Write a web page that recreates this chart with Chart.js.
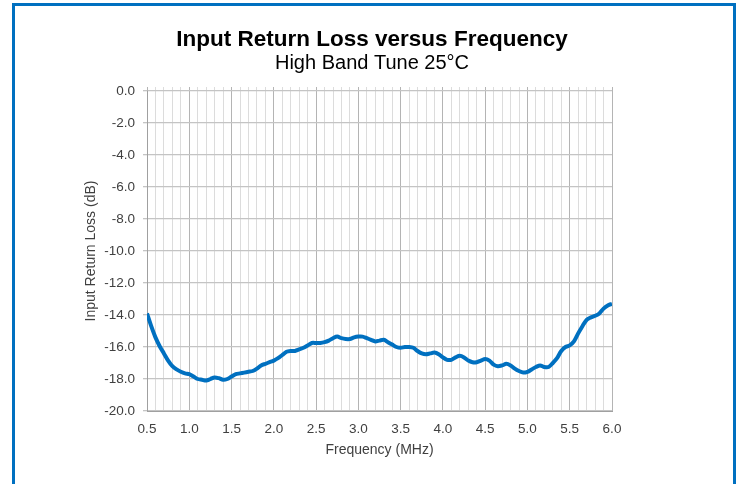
<!DOCTYPE html>
<html>
<head>
<meta charset="utf-8">
<script src="https://cdn.jsdelivr.net/npm/chart.js@4.4.1/dist/chart.umd.min.js"></script>
<style>
  html, body { margin: 0; padding: 0; background: #fff; }
  #wrap { position: relative; width: 740px; height: 484px; overflow: hidden; }
  #frame {
    position: absolute; left: 12px; top: 3px; width: 718px; height: 500px;
    border: 3px solid #0070c0; border-bottom: none;
  }
  #chart { position: absolute; left: 0; top: 0; }
</style>
</head>
<body>
<div id="wrap">
  <div id="frame"></div>
  <canvas id="chart" width="740" height="484"></canvas>
</div>
<script>
const freqMHz = [
  0.50, 0.55, 0.60, 0.65, 0.70, 0.75, 0.80, 0.85, 0.90, 0.95,
  1.00, 1.05, 1.10, 1.15, 1.20, 1.25, 1.30, 1.35, 1.40, 1.45,
  1.50, 1.55, 1.60, 1.65, 1.70, 1.75, 1.80, 1.85, 1.90, 1.95,
  2.00, 2.05, 2.10, 2.15, 2.20, 2.25, 2.30, 2.35, 2.40, 2.45,
  2.50, 2.55, 2.60, 2.65, 2.70, 2.75, 2.80, 2.85, 2.90, 2.95,
  3.00, 3.05, 3.10, 3.15, 3.20, 3.25, 3.30, 3.35, 3.40, 3.45,
  3.50, 3.55, 3.60, 3.65, 3.70, 3.75, 3.80, 3.85, 3.90, 3.95,
  4.00, 4.05, 4.10, 4.15, 4.20, 4.25, 4.30, 4.35, 4.40, 4.45,
  4.50, 4.55, 4.60, 4.65, 4.70, 4.75, 4.80, 4.85, 4.90, 4.95,
  5.00, 5.05, 5.10, 5.15, 5.20, 5.25, 5.30, 5.35, 5.40, 5.45,
  5.50, 5.55, 5.60, 5.65, 5.70, 5.75, 5.80, 5.85, 5.90, 5.95,
  6.00
];
const returnLossDb = [
  -13.9, -14.7, -15.4, -15.95, -16.4, -16.85, -17.2, -17.4, -17.55, -17.65,
  -17.7, -17.85, -18.0, -18.05, -18.1, -18.0, -17.9, -17.95, -18.05, -18.0,
  -17.85, -17.7, -17.65, -17.6, -17.55, -17.5, -17.35, -17.15, -17.05, -16.95,
  -16.85, -16.7, -16.5, -16.3, -16.25, -16.25, -16.15, -16.05, -15.9, -15.75,
  -15.75, -15.75, -15.7, -15.6, -15.45, -15.35, -15.45, -15.5, -15.5, -15.4,
  -15.35, -15.35, -15.45, -15.55, -15.65, -15.6, -15.55, -15.7, -15.85, -16.0,
  -16.05, -16.0, -16.0, -16.05, -16.25, -16.4, -16.45, -16.4, -16.35, -16.45,
  -16.65, -16.8, -16.8, -16.65, -16.55, -16.65, -16.85, -16.95, -16.95, -16.85,
  -16.75, -16.85, -17.1, -17.2, -17.15, -17.05, -17.15, -17.35, -17.5, -17.6,
  -17.55, -17.4, -17.25, -17.15, -17.25, -17.25, -17.0, -16.7, -16.25, -16.0,
  -15.9, -15.65, -15.15, -14.7, -14.3, -14.15, -14.05, -13.9, -13.6, -13.4,
  -13.3
];
// Labelled x ticks (minor gridlines every 0.1 MHz between them)
const xLabelTicks = [0.5, 1.0, 1.5, 2.0, 2.5, 3.0, 3.5, 4.0, 4.5, 5.0, 5.5, 6.0];
const yTicks = [-20, -18, -16, -14, -12, -10, -8, -6, -4, -2, 0];

const FONT = "'Liberation Sans', Arial, sans-serif";

function isLabelTick(v) {
    return xLabelTicks.some(t => Math.abs(t - v) < 1e-6);
}

const points = freqMHz.map((f, i) => ({ x: f, y: returnLossDb[i] }));

const xGrid = {
    color: ctx => isLabelTick(ctx.tick.value) ? '#b4b4b4' : '#dcdcdc',
    lineWidth: 1
};

new Chart(document.getElementById('chart'), {
    type: 'line',
    data: {
        datasets: [{
            label: 'Input Return Loss',
            data: points,
            borderColor: '#0070c0',
            borderWidth: 4,
            pointRadius: 0,
            tension: 0.3,
            fill: false
        }]
    },
    options: {
        responsive: false,
        animation: false,
        // symmetric-ish padding keeps the titles centred on the page
        layout: { padding: { left: 20, right: 16, top: 0, bottom: 25.6 } },
        plugins: {
            legend: { display: false },
            tooltip: { enabled: false },
            title: {
                display: true,
                text: 'Input Return Loss versus Frequency',
                color: '#000',
                font: { family: FONT, size: 22.5, weight: 'bold', lineHeight: 0.9 },
                padding: { top: 29.7, bottom: 0 }
            },
            subtitle: {
                display: true,
                text: 'High Band Tune 25°C',
                color: '#000',
                font: { family: FONT, size: 20, weight: 'normal', lineHeight: 1.0 },
                padding: { top: 3.5, bottom: 13.55 }
            }
        },
        scales: {
            x: {
                type: 'linear',
                position: 'bottom',
                min: 0.5,
                max: 6.0,
                afterFit: s => { s.height = 47.4; },
                border: { color: '#a0a0a0' },
                grid: Object.assign({ drawTicks: false }, xGrid),
                ticks: {
                    stepSize: 0.1,
                    autoSkip: false,
                    maxRotation: 0,
                    padding: 10,
                    color: '#404040',
                    font: { family: FONT, size: 13.5 },
                    callback: v => isLabelTick(v) ? v.toFixed(1) : ''
                },
                title: {
                    display: true,
                    text: 'Frequency (MHz)',
                    color: '#404040',
                    font: { family: FONT, size: 14 },
                    padding: 0
                }
            },
            xTop: {
                type: 'linear',
                position: 'top',
                min: 0.5,
                max: 6.0,
                afterFit: s => { s.height = 4; },
                border: { display: false },
                grid: Object.assign({ drawOnChartArea: false, drawTicks: true, tickLength: 4 }, xGrid),
                ticks: { display: false, stepSize: 0.1, autoSkip: false }
            },
            y: {
                type: 'linear',
                min: -20,
                max: 0,
                afterFit: s => { s.width = 127; },
                afterBuildTicks: s => { s.ticks = yTicks.map(v => ({ value: v })); },
                border: { color: '#a0a0a0' },
                grid: { color: '#c4c4c4', lineWidth: 1.3, tickLength: 4 },
                ticks: {
                    padding: 8,
                    color: '#404040',
                    font: { family: FONT, size: 13.5 },
                    callback: v => v.toFixed(1)
                },
                title: {
                    display: true,
                    text: 'Input Return Loss (dB)',
                    color: '#404040',
                    font: { family: FONT, size: 14 },
                    padding: { top: 62.6, bottom: 0 }
                }
            },
            // empty right-hand spacer so the plot ends at the same place
            ySpacer: {
                type: 'linear',
                position: 'right',
                min: -20,
                max: 0,
                afterFit: s => { s.width = 112; },
                border: { display: false },
                grid: { display: false },
                ticks: { display: false }
            }
        }
    }
});
</script>
</body>
</html>
